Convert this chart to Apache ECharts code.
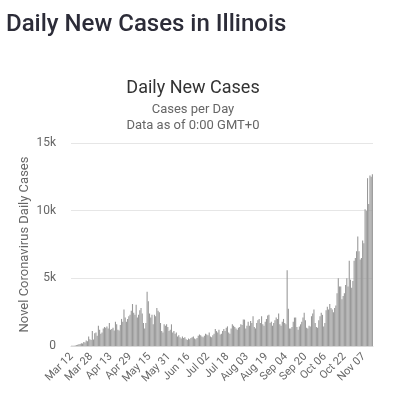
<!DOCTYPE html>
<html>
<head>
<meta charset="utf-8">
<script src="https://cdn.jsdelivr.net/npm/echarts@6/dist/echarts.min.js"></script>
<style>
  html, body { margin: 0; padding: 0; background: #fff; }
  #chart { width: 397px; height: 400px; }
</style>
</head>
<body>
<div id="chart"></div>
<script>
// daily new cases, Mar 12 .. Nov 14
const marCases = [10, 20, 15, 40, 60, 100, 130, 150, 200, 180, 300, 250, 400, 350, 700, 500, 450, 1100, 480, 950]
const aprCases = [1000, 750, 1500, 1200, 900, 1000, 1300, 1400, 1350, 1450, 1300, 1700, 1200, 1250, 1350, 1150, 1800, 1600, 1200, 1150, 1550, 2000, 1800, 2700, 2100, 1800, 2000, 2200, 2300, 2600]
const mayCases = [3100, 2450, 2300, 3050, 2100, 2300, 2650, 2800, 2400, 1700, 1300, 1700, 4000, 3300, 2400, 2100, 2300, 1600, 2300, 2200, 2800, 2600, 2500, 1700, 1100, 1000, 1600, 1500, 1600, 1400, 1100]
const junCases = [1200, 1600, 1000, 1100, 900, 1000, 700, 800, 650, 550, 700, 600, 650, 500, 450, 550, 500, 600, 650, 700, 550, 500, 600, 750, 850, 800, 700, 650, 750, 900]
const julCases = [850, 800, 1000, 700, 650, 800, 900, 1250, 1100, 1000, 1200, 850, 900, 1100, 1250, 1100, 1350, 1450, 1000, 900, 1300, 1600, 1500, 1400, 1300, 1200, 1350, 1400, 1600, 1550, 1950]
const augCases = [1950, 1300, 1500, 1800, 1500, 1850, 1700, 2200, 1400, 1300, 1700, 1900, 2000, 1700, 2200, 1600, 1500, 1800, 2000, 2250, 2300, 1700, 1800, 1500, 1700, 1900, 2100, 2000, 2400, 1600, 1500]
const sepCases = [1800, 2000, 1700, 1600, 5600, 2750, 1300, 1300, 1400, 1800, 2100, 2100, 1400, 1200, 1450, 1600, 1800, 2100, 2450, 1900, 1350, 1300, 1500, 1450, 2200, 2400, 2700, 1700, 1400, 1350]
const octCases = [1900, 2200, 2450, 2300, 1450, 1700, 2650, 2900, 2700, 3100, 2800, 2700, 2500, 2800, 3000, 3900, 5000, 4400, 4400, 3450, 3700, 3900, 4500, 5000, 4400, 6300, 4900, 4300, 4800, 6300, 6500]
const novCases = [7000, 8100, 7000, 6400, 6500, 7800, 7600, 10100, 10000, 12400, 10500, 12600, 12500, 12700]

const monthNames = ['Mar', 'Apr', 'May', 'Jun', 'Jul', 'Aug', 'Sep', 'Oct', 'Nov']
const monthData = [marCases, aprCases, mayCases, junCases, julCases, augCases, sepCases, octCases, novCases]
const firstDay = 12

const yTicks = [0, 5000, 10000, 15000]

const dates = []
const cases = []
monthData.forEach((arr, m) => {
  arr.forEach((v, i) => {
    const day = (m === 0 ? firstDay : 1) + i
    dates.push(monthNames[m] + ' ' + String(day).padStart(2, '0'))
    cases.push(v)
  })
})

const font = 'Roboto, "Noto Sans", sans-serif'
const chart = echarts.init(document.getElementById('chart'))

chart.setOption({
  animation: false,
  textStyle: { fontFamily: font },
  graphic: [
    {
      type: 'text', x: 6, y: 25,
      style: {
        text: 'Daily New Cases in Illinois', font: '500 24px ' + font,
        fill: '#2c2c38', textVerticalAlign: 'middle'
      }
    },
    {
      type: 'text', x: 193, y: 88,
      style: {
        text: 'Daily New Cases', font: '18px ' + font,
        fill: '#333', textAlign: 'center', textVerticalAlign: 'middle'
      }
    },
    {
      type: 'text', x: 193, y: 110,
      style: {
        text: 'Cases per Day', font: '13px ' + font,
        fill: '#666', textAlign: 'center', textVerticalAlign: 'middle'
      }
    },
    {
      type: 'text', x: 193, y: 126,
      style: {
        text: 'Data as of 0:00 GMT+0', font: '13px ' + font,
        fill: '#666', textAlign: 'center', textVerticalAlign: 'middle'
      }
    }
  ],
  grid: { left: 71, right: 24, top: 143, bottom: 54 },
  xAxis: {
    type: 'category',
    data: dates,
    axisLine: { lineStyle: { color: '#d8d8d8' } },
    axisTick: { show: false },
    axisLabel: {
      interval: 15,
      rotate: 45,
      color: '#666',
      fontSize: 11,
      margin: 9
    }
  },
  yAxis: {
    type: 'value',
    min: 0,
    max: 15000,
    interval: 5000,
    name: 'Novel Coronavirus Daily Cases',
    nameLocation: 'middle',
    nameGap: 40,
    nameMoveOverlap: false,
    nameTextStyle: { color: '#666', fontSize: 13 },
    axisLine: { show: false },
    axisTick: { show: false },
    axisLabel: {
      color: '#666',
      fontSize: 12,
      margin: 15,
      formatter: v => (yTicks.includes(v) && v > 0 ? v / 1000 + 'k' : String(v))
    },
    splitLine: { lineStyle: { color: '#e6e6e6' } }
  },
  series: [{
    type: 'bar',
    data: cases,
    barCategoryGap: '10%',
    itemStyle: { color: '#999999' }
  }]
})
</script>
</body>
</html>
